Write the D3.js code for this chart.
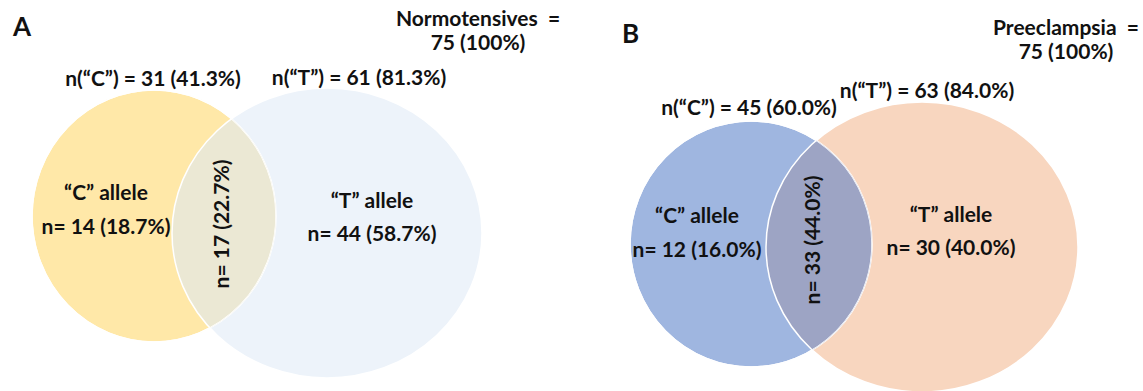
<!DOCTYPE html>
<html lang="en">
<head>
<meta charset="UTF-8">
<title>Venn C/T allele</title>
<script src="https://d3js.org/d3.v7.min.js"></script>
<style>
  body { margin: 0; background: #fff; }
  text { font-family: Lato, "Noto Sans", sans-serif; font-weight: 700; fill: #111; }
</style>
</head>
<body>
<script>
// data
const panelLetters = ["A", "B"];
const groupNames = ["Normotensives", "Preeclampsia"];
const groupTotals = [75, 75];
const cTotals = [31, 45];
const tTotals = [61, 63];
const cOnly = [14, 12];
const ctBoth = [17, 33];
const tOnly = [44, 30];

// colours per panel: [C set, T set, overlap]
const colours = [
  ["#FFE8A8", "#EDF3FA", "#EBE8D4"],
  ["#9FB6E0", "#F8D6BF", "#9DA4C4"]
];

// drawing layout (pixels)
const layout = [
  { letter: [13, 36], title: [478, 26], c: { cx: 154, cy: 216, rx: 122, ry: 126 }, t: { cx: 327, cy: 233, rx: 155, ry: 145 },
    cLab: [153, 86], tLab: [359, 85], cIn: [106, 200], tIn: [372, 208], mid: [222, 224] },
  { letter: [622, 43], title: [1066, 35], c: { cx: 751, cy: 244, rx: 121, ry: 123 }, t: { cx: 922, cy: 247, rx: 156, ry: 145 },
    cLab: [749, 115], tLab: [927, 98], cIn: [697, 223], tIn: [951, 222], mid: [813, 240] }
];

const width = 1143, height = 391;
const fs = 21;
const pct = (n, tot) => `${n} (${(n / tot * 100).toFixed(1)}%)`;

const svg = d3.select("body").append("svg")
  .attr("width", width)
  .attr("height", height);

const defs = svg.append("defs");

layout.forEach((L, i) => {
  const g = svg.append("g");

  defs.append("clipPath").attr("id", `clipC${i}`)
    .append("ellipse")
    .attr("cx", L.c.cx).attr("cy", L.c.cy).attr("rx", L.c.rx).attr("ry", L.c.ry);

  // T set (behind), then C set, then the overlap clipped to C
  g.append("ellipse")
    .attr("cx", L.t.cx).attr("cy", L.t.cy).attr("rx", L.t.rx).attr("ry", L.t.ry)
    .attr("fill", colours[i][1]).attr("stroke", "#fff").attr("stroke-width", 1.5);

  g.append("ellipse")
    .attr("cx", L.c.cx).attr("cy", L.c.cy).attr("rx", L.c.rx).attr("ry", L.c.ry)
    .attr("fill", colours[i][0]).attr("stroke", "#fff").attr("stroke-width", 1.5);

  g.append("ellipse")
    .attr("clip-path", `url(#clipC${i})`)
    .attr("cx", L.t.cx).attr("cy", L.t.cy).attr("rx", L.t.rx).attr("ry", L.t.ry)
    .attr("fill", colours[i][2]).attr("stroke", "#fff").attr("stroke-width", 1.5);

  g.append("ellipse")
    .attr("clip-path", `url(#clipC${i})`)
    .attr("cx", L.c.cx).attr("cy", L.c.cy).attr("rx", L.c.rx).attr("ry", L.c.ry)
    .attr("fill", "none").attr("stroke", "#fff").attr("stroke-width", 1.5);

  // panel letter
  g.append("text").attr("x", L.letter[0]).attr("y", L.letter[1])
    .style("font-size", "26px").text(panelLetters[i]);

  // group total
  const title = g.append("text").attr("text-anchor", "middle").style("font-size", fs + "px");
  title.append("tspan").attr("x", L.title[0]).attr("y", L.title[1])
    .attr("xml:space", "preserve").text(`${groupNames[i]}  =`);
  title.append("tspan").attr("x", L.title[0]).attr("dy", 24)
    .text(`${groupTotals[i]} (100%)`);

  const mid = (x, y, s) => g.append("text").attr("x", x).attr("y", y)
    .attr("text-anchor", "middle").style("font-size", fs + "px").text(s);

  mid(L.cLab[0], L.cLab[1], `n(\u201CC\u201D) = ${pct(cTotals[i], groupTotals[i])}`);
  mid(L.tLab[0], L.tLab[1], `n(\u201CT\u201D) = ${pct(tTotals[i], groupTotals[i])}`);

  mid(L.cIn[0], L.cIn[1], "\u201CC\u201D allele");
  mid(L.cIn[0], L.cIn[1] + 34, `n= ${pct(cOnly[i], groupTotals[i])}`);
  mid(L.tIn[0], L.tIn[1], "\u201CT\u201D allele");
  mid(L.tIn[0], L.tIn[1] + 33, `n= ${pct(tOnly[i], groupTotals[i])}`);

  g.append("text")
    .attr("transform", `translate(${L.mid[0]},${L.mid[1]}) rotate(-90)`)
    .attr("text-anchor", "middle").attr("dy", "0.35em")
    .style("font-size", fs + "px")
    .text(`n= ${pct(ctBoth[i], groupTotals[i])}`);
});
</script>
</body>
</html>
